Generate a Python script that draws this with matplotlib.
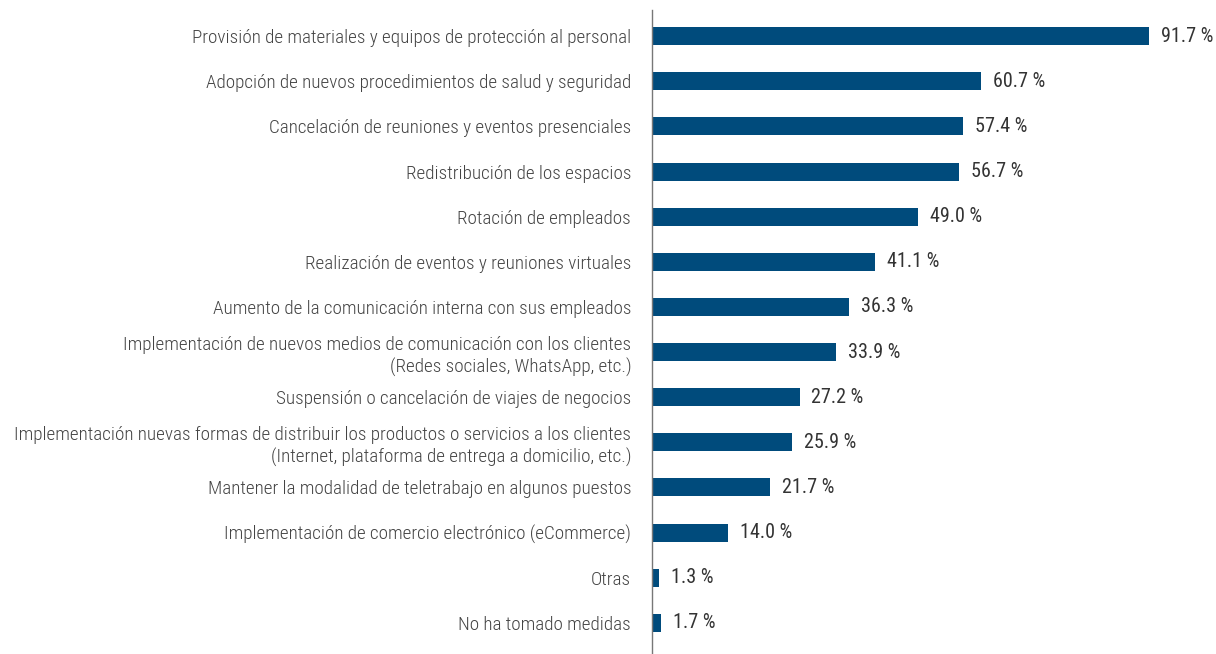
import matplotlib.pyplot as plt
from matplotlib import font_manager

names = {f.name for f in font_manager.fontManager.ttflist}
family = 'Roboto Condensed' if 'Roboto Condensed' in names else 'Roboto'
plt.rcParams['font.family'] = [family, 'DejaVu Sans']

categories = [
    'Provisión de materiales y equipos de protección al personal',
    'Adopción de nuevos procedimientos de salud y seguridad',
    'Cancelación de reuniones y eventos presenciales',
    'Redistribución de los espacios',
    'Rotación de empleados',
    'Realización de eventos y reuniones virtuales',
    'Aumento de la comunicación interna con sus empleados',
    'Implementación de nuevos medios de comunicación con los clientes\n(Redes sociales, WhatsApp, etc.)',
    'Suspensión o cancelación de viajes de negocios',
    'Implementación nuevas formas de distribuir los productos o servicios a los clientes\n(Internet, plataforma de entrega a domicilio, etc.)',
    'Mantener la modalidad de teletrabajo en algunos puestos',
    'Implementación de comercio electrónico (eCommerce)',
    'Otras',
    'No ha tomado medidas',
]
values = [91.7, 60.7, 57.4, 56.7, 49.0, 41.1, 36.3, 33.9, 27.2, 25.9, 21.7, 14.0, 1.3, 1.7]

fig = plt.figure(figsize=(12.16, 6.54), dpi=100)
ax = fig.add_axes([652 / 1216, 0, 1 - 652 / 1216, 644 / 654])

y = list(range(len(categories)))
ax.barh(y, values, height=0.4, color='#004b7c')
for yi, v in zip(y, values):
    ax.text(v + 2.2, yi, f'{v:.1f} %', va='center', ha='left',
            fontsize=14.5, color='#333333')

ax.set_yticks(y)
ax.set_yticklabels(categories, fontsize=13.8, color='#444444',
                   fontweight='light', linespacing=1.3)
ax.tick_params(axis='y', length=0, pad=15)
ax.set_ylim(13.69, -0.58)
ax.set_xlim(0, 104)
ax.set_xticks([])
for s in ['top', 'right', 'bottom']:
    ax.spines[s].set_visible(False)
ax.spines['left'].set_color('#777777')
ax.spines['left'].set_linewidth(1)

fig.savefig('out.png', dpi=100)
